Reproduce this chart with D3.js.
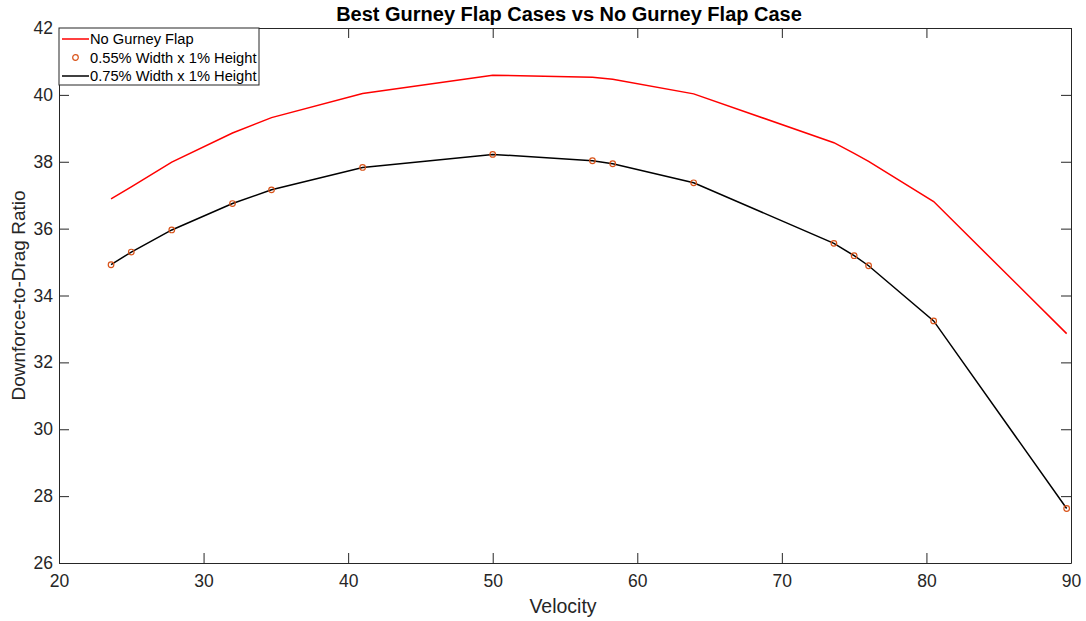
<html>
<head>
  <script src="https://d3js.org/d3.v7.min.js"></script>
  <style>
    body { margin: 0; background: #fff; }
    text { font-family: "Liberation Sans", Arial, sans-serif; }
  </style>
</head>
<body>
<div id="my_dataviz"></div>
<script>
// velocities shared by all three cases
var velocity = [23.6, 25.0, 27.8, 32.0, 34.7, 41.0, 50.0, 56.9, 58.3, 63.9, 73.6, 75.0, 76.0, 80.5, 89.7];
var noFlap   = [36.89, 37.25, 37.99, 38.86, 39.32, 40.04, 40.59, 40.53, 40.47, 40.03, 38.57, 38.25, 38.01, 36.81, 32.86];
var w055     = [34.92, 35.30, 35.96, 36.75, 37.16, 37.83, 38.22, 38.03, 37.94, 37.37, 35.56, 35.19, 34.89, 33.24, 27.63];
var w075     = [34.92, 35.30, 35.96, 36.75, 37.16, 37.83, 38.22, 38.03, 37.94, 37.37, 35.56, 35.19, 34.89, 33.24, 27.63];
var xTicks = [20, 30, 40, 50, 60, 70, 80, 90];
var yTicks = [26, 28, 30, 32, 34, 36, 38, 40, 42];
var legendLabels = ["No Gurney Flap", "0.55% Width x 1% Height", "0.75% Width x 1% Height"];

var margin = {top: 28, right: 15, bottom: 58, left: 59},
    width = 1086 - margin.left - margin.right,
    height = 621 - margin.top - margin.bottom;

var svg = d3.select("#my_dataviz")
  .append("svg")
    .attr("width", 1086)
    .attr("height", 621);

var g = svg.append("g")
    .attr("transform", "translate(" + margin.left + "," + margin.top + ")");

var x = d3.scaleLinear().domain([20, 90]).range([0, width]);
var y = d3.scaleLinear().domain([26, 42]).range([height, 0]);

var axisColor = "#262626";

// axes with inward ticks on all four sides
function styleAxis(sel) {
  sel.select(".domain").attr("stroke", axisColor);
  sel.selectAll(".tick line").attr("stroke", axisColor);
  sel.selectAll(".tick text").attr("fill", axisColor).style("font-size", "17.5px")
    .style("font-family", "'Liberation Sans', Arial, sans-serif");
}

g.append("g")
  .attr("transform", "translate(0," + height + ")")
  .call(d3.axisBottom(x).tickValues(xTicks).tickSizeInner(-10).tickSizeOuter(0).tickPadding(12))
  .call(styleAxis);
g.append("g")
  .call(d3.axisTop(x).tickValues(xTicks).tickSizeInner(-10).tickSizeOuter(0).tickFormat(""))
  .call(styleAxis);
g.append("g")
  .call(d3.axisLeft(y).tickValues(yTicks).tickSizeInner(-10).tickSizeOuter(0).tickPadding(6))
  .call(styleAxis);
g.append("g")
  .attr("transform", "translate(" + width + ",0)")
  .call(d3.axisRight(y).tickValues(yTicks).tickSizeInner(-10).tickSizeOuter(0).tickFormat(""))
  .call(styleAxis);

var line = d3.line()
  .x(function(d) { return x(d[0]); })
  .y(function(d) { return y(d[1]); });

g.append("path")
  .datum(d3.zip(velocity, noFlap))
  .attr("fill", "none").attr("stroke", "#ff0000").attr("stroke-width", 1.5)
  .attr("d", line);

g.append("path")
  .datum(d3.zip(velocity, w075))
  .attr("fill", "none").attr("stroke", "#000").attr("stroke-width", 1.5)
  .attr("d", line);

g.selectAll("circle.m")
  .data(d3.zip(velocity, w055))
  .enter().append("circle")
    .attr("class", "m")
    .attr("cx", function(d) { return x(d[0]); })
    .attr("cy", function(d) { return y(d[1]); })
    .attr("r", 2.8)
    .attr("fill", "none")
    .attr("stroke", "#D95319")
    .attr("stroke-width", 1.2);

// title and axis labels
svg.append("text")
  .attr("x", 569).attr("y", 21)
  .attr("text-anchor", "middle")
  .style("font-size", "20px").style("font-weight", "bold")
  .attr("fill", "#000")
  .text("Best Gurney Flap Cases vs No Gurney Flap Case");

svg.append("text")
  .attr("x", 563).attr("y", 613)
  .attr("text-anchor", "middle")
  .style("font-size", "19.5px")
  .attr("fill", axisColor)
  .text("Velocity");

svg.append("text")
  .attr("transform", "translate(25," + (margin.top + height / 2) + ") rotate(-90)")
  .attr("text-anchor", "middle")
  .style("font-size", "19px")
  .attr("fill", axisColor)
  .text("Downforce-to-Drag Ratio");

// legend
var leg = svg.append("g").attr("transform", "translate(" + margin.left + "," + margin.top + ")");
leg.append("rect")
  .attr("x", 0).attr("y", 0).attr("width", 200).attr("height", 57)
  .attr("fill", "#fff").attr("stroke", axisColor).attr("stroke-width", 1);

var rows = leg.selectAll("g.row")
  .data(legendLabels)
  .enter().append("g")
    .attr("class", "row")
    .attr("transform", function(d, i) { return "translate(0," + (11 + i * 18.5) + ")"; });

rows.append("text")
  .attr("x", 31).attr("y", 5)
  .style("font-size", "14.7px")
  .attr("fill", "#000")
  .text(function(d) { return d; });

rows.filter(function(d, i) { return i !== 1; })
  .append("line")
  .attr("x1", 3).attr("x2", 30).attr("y1", 0).attr("y2", 0)
  .attr("stroke", function(d, i) { return i === 0 ? "#ff0000" : "#000"; })
  .attr("stroke-width", 1.5);

rows.filter(function(d, i) { return i === 1; })
  .append("circle")
  .attr("cx", 16.5).attr("cy", 0).attr("r", 2.8)
  .attr("fill", "none").attr("stroke", "#D95319").attr("stroke-width", 1.2);
</script>
</body>
</html>
